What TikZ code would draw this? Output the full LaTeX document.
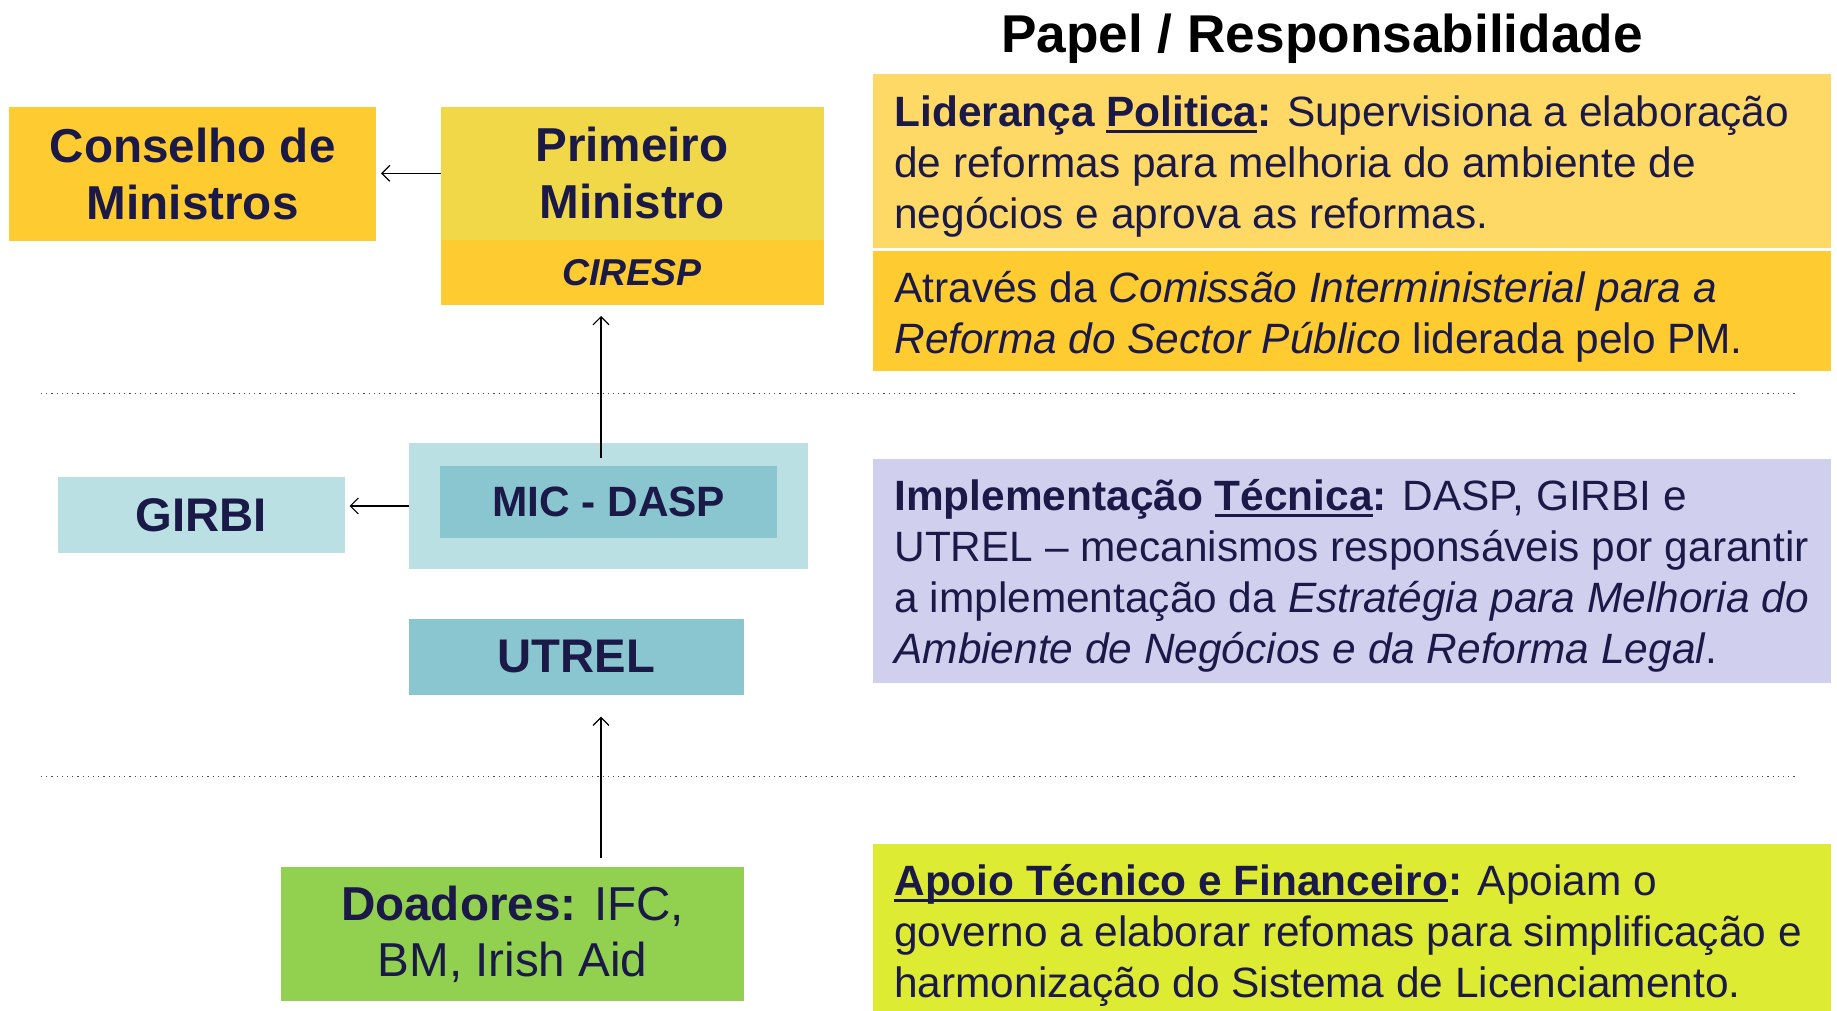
\documentclass[tikz,border=0pt]{standalone}
\usepackage{fontspec}
\setmainfont{Liberation Sans}
\newcommand{\ulin}[1]{\leavevmode\setbox0\hbox{#1}\rlap{\rule[-3.4pt]{\wd0}{1.5pt}}\box0}
\usetikzlibrary{arrows.meta}
\definecolor{navy}{RGB}{26,25,72}
\definecolor{cgold}{RGB}{254,204,48}
\definecolor{pmyel}{RGB}{240,216,72}
\definecolor{lyel}{RGB}{255,217,102}
\definecolor{ltblue}{RGB}{187,224,227}
\definecolor{mdblue}{RGB}{138,198,207}
\definecolor{lav}{RGB}{208,208,238}
\definecolor{dgreen}{RGB}{146,208,80}
\definecolor{lime}{RGB}{221,235,51}
\begin{document}
\begin{tikzpicture}[x=0.5pt,y=-0.5pt,
  box/.style={inner sep=0pt, outer sep=0pt, text=navy, align=center},
  rbox/.style={inner sep=0pt, outer sep=0pt, anchor=north west, minimum width=479.1pt},
  rtext/.style={inner sep=0pt, anchor=base west, align=left, text=navy, font=\fontsize{21.2}{25.5}\selectfont},
  arr/.style={-{Straight Barb[length=4pt,width=8pt]}, line width=0.6pt, black},
  dotline/.style={dotted, line width=0.6pt, black!70}]
\useasboundingbox (0,0) rectangle (1837,1011);
% left column
\node[box, fill=cgold, minimum width=183.3pt, minimum height=67.2pt,
  font=\fontsize{23.8}{28.5}\selectfont\bfseries] (cm) at (192.7,173.8) {Conselho de\\Ministros};
\node[box, fill=pmyel, minimum width=191.5pt, minimum height=66.7pt,
  font=\fontsize{23.8}{28.5}\selectfont\bfseries] (pm) at (632,173.3) {Primeiro\\Ministro};
\node[box, fill=cgold, minimum width=191.5pt, minimum height=32.3pt,
  font=\fontsize{18.7}{22}\selectfont\bfseries\itshape] (cr) at (632,272.3) {CIRESP};
\node[box, fill=ltblue, minimum width=199.5pt, minimum height=63pt] (mo) at (608.5,506) {};
\node[box, fill=mdblue, minimum width=168.25pt, minimum height=36pt,
  font=\fontsize{21.2}{25}\selectfont\bfseries] (mi) at (608.7,502) {MIC - DASP};
\node[box, fill=ltblue, minimum width=143.5pt, minimum height=38.1pt,
  font=\fontsize{23.6}{28}\selectfont\bfseries] (gi) at (201,515) {GIRBI};
\node[box, fill=mdblue, minimum width=167.5pt, minimum height=38pt,
  font=\fontsize{23.6}{28}\selectfont\bfseries] (ut) at (576.5,656.6) {UTREL};
\node[box, fill=dgreen, minimum width=231.5pt, minimum height=66.8pt,
  font=\fontsize{23.8}{28}\selectfont] (dd) at (512.5,933.8) {{\bfseries Doadores:} IFC,\\BM, Irish Aid};
% connectors
\coordinate (ax) at (601,0);
\draw[arr] (pm.west) -- ([xshift=2.5pt]pm.west -| cm.east);
\draw[arr] (mo.west) -- ([xshift=2.5pt]mo.west -| gi.east);
\draw[arr] ([yshift=4pt]mi.north -| ax) -- ([yshift=-5.7pt]cr.south -| ax);
\draw[arr] ([yshift=4.5pt]dd.north -| ax) -- ([yshift=-11pt]ut.south -| ax);
% dotted separators
\draw[dotline] (41,393.6) -- (1798,393.6);
\draw[dotline] (41,776.8) -- (1798,776.8);
% right column
\node[font=\fontsize{26.6}{30}\selectfont\bfseries, anchor=base, inner sep=0pt] (title) at (1322,52.7) {Papel / Responsabilidade};
\node[rbox, fill=lyel, minimum height=87.3pt] (b1) at (872.8,73.8) {};
\node[rbox, fill=cgold, minimum height=60.35pt] (b2) at (872.8,250.7) {};
\node[rbox, fill=lav, minimum height=112pt] (b3) at (872.8,459) {};
\node[rbox, fill=lime, minimum height=83.75pt] (b4) at (872.8,843.5) {};
\node[rtext] (t1) at (894,228.5) {{\bfseries Liderança \ulin{Politica}:} Supervisiona a elaboração\\de reformas para melhoria do ambiente de\\negócios e aprova as reformas.};
\node[rtext] (t2) at (894,353.8) {Através da \textit{Comissão Interministerial para a}\\\textit{Reforma do Sector Público} liderada pelo PM.};
\node[rtext] (t3) at (894,663) {{\bfseries Implementação \ulin{Técnica}:} DASP, GIRBI e\\UTREL – mecanismos responsáveis por garantir\\a implementação da \textit{Estratégia para Melhoria do}\\\textit{Ambiente de Negócios e da Reforma Legal}.};
\node[rtext] (t4) at (894,997) {{\bfseries\ulin{Apoio Técnico e Financeiro}:} Apoiam o\\governo a elaborar refomas para simplificação e\\harmonização do Sistema de Licenciamento.};
\end{tikzpicture}
\end{document}
